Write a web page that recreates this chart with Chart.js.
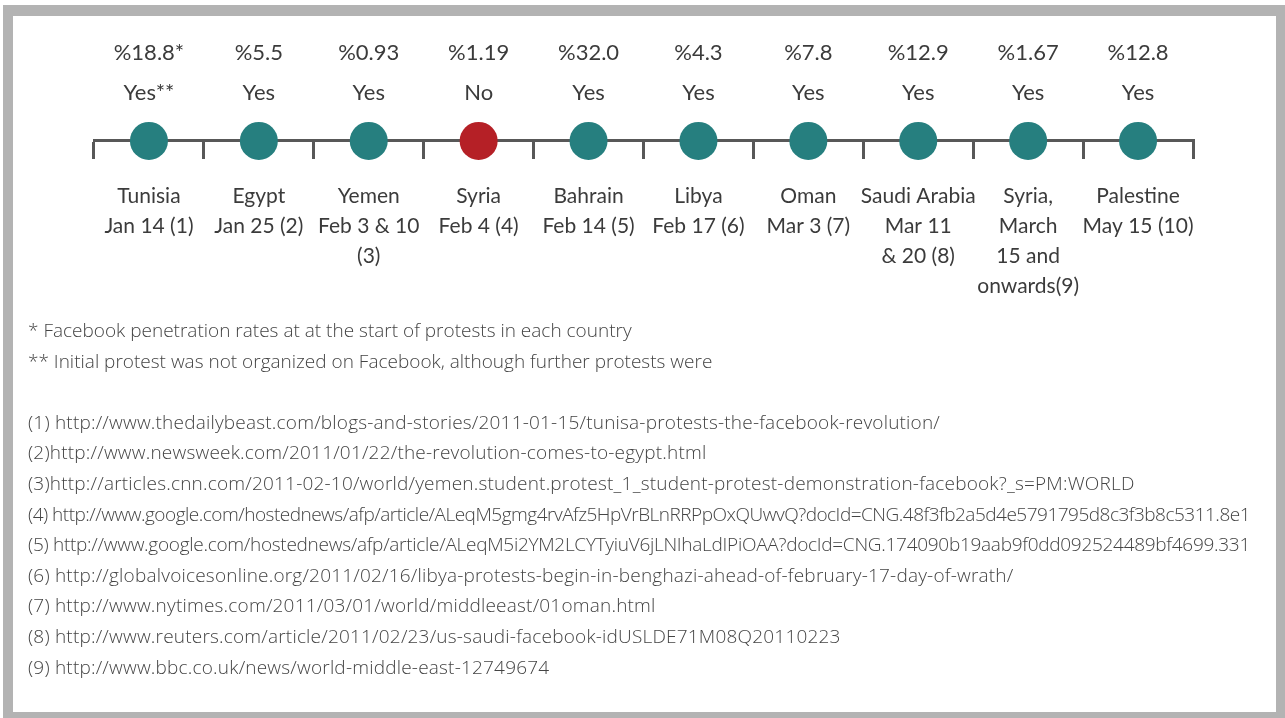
<!DOCTYPE html>
<html>
<head>
<meta charset="utf-8">
<script src="https://cdn.jsdelivr.net/npm/chart.js@4/dist/chart.umd.min.js"></script>
<style>
  html, body { margin: 0; padding: 0; background: #fff; }
  body { width: 1285px; height: 718px; position: relative; overflow: hidden; }
  #frame { position: absolute; left: 3px; top: 5px; width: 1282px; height: 713px; background: #b3b3b3; }
  #inner { position: absolute; left: 13px; top: 16px; width: 1263px; height: 696px; background: #fff; }
  #wrap { position: absolute; left: 0; top: 0; width: 1285px; height: 320px; }
  #notes { position: absolute; left: 28px; top: 315px; font-family: "Open Sans", sans-serif; font-weight: 300;
           font-size: 19px; line-height: 30.6px; color: #444; }
  #notes div { white-space: pre; height: 30.6px; width: max-content; letter-spacing: 0.2px; }
  #notes div.star { letter-spacing: 0; }
</style>
</head>
<body>
<div id="frame"></div>
<div id="inner"></div>
<div id="wrap"><canvas id="c"></canvas></div>
<div id="notes"></div>
<script>
// ---- data ----
const countries = ["Tunisia", "Egypt", "Yemen", "Syria", "Bahrain", "Libya", "Oman", "Saudi Arabia", "Syria,", "Palestine"];
const dateLines = [
  ["Jan 14 (1)"],
  ["Jan 25 (2)"],
  ["Feb 3 & 10", "(3)"],
  ["Feb 4 (4)"],
  ["Feb 14 (5)"],
  ["Feb 17 (6)"],
  ["Mar 3 (7)"],
  ["Mar 11", "& 20 (8)"],
  ["March", "15 and", "onwards(9)"],
  ["May 15 (10)"]
];
const penetrationRates = ["%18.8*", "%5.5", "%0.93", "%1.19", "%32.0", "%4.3", "%7.8", "%12.9", "%1.67", "%12.8"];
const organizedOnFacebook = ["Yes**", "Yes", "Yes", "No", "Yes", "Yes", "Yes", "Yes", "Yes", "Yes"];
const timelinePosition = [0, 0, 0, 0, 0, 0, 0, 0, 0, 0];
const footnotes = [
  "* Facebook penetration rates at at the start of protests in each country",
  "** Initial protest was not organized on Facebook, although further protests were",
  "",
  "(1) http://www.thedailybeast.com/blogs-and-stories/2011-01-15/tunisa-protests-the-facebook-revolution/",
  "(2)http://www.newsweek.com/2011/01/22/the-revolution-comes-to-egypt.html",
  "(3)http://articles.cnn.com/2011-02-10/world/yemen.student.protest_1_student-protest-demonstration-facebook?_s=PM:WORLD",
  "(4) http://www.google.com/hostednews/afp/article/ALeqM5gmg4rvAfz5HpVrBLnRRPpOxQUwvQ?docId=CNG.48f3fb2a5d4e5791795d8c3f3b8c5311.8e1",
  "(5) http://www.google.com/hostednews/afp/article/ALeqM5i2YM2LCYTyiuV6jLNIhaLdIPiOAA?docId=CNG.174090b19aab9f0dd092524489bf4699.331",
  "(6) http://globalvoicesonline.org/2011/02/16/libya-protests-begin-in-benghazi-ahead-of-february-17-day-of-wrath/",
  "(7) http://www.nytimes.com/2011/03/01/world/middleeast/01oman.html",
  "(8) http://www.reuters.com/article/2011/02/23/us-saudi-facebook-idUSLDE71M08Q20110223",
  "(9) http://www.bbc.co.uk/news/world-middle-east-12749674"
];

// footnotes as real text; lines too long for the frame are tightened to fit
const notesEl = document.getElementById('notes');
const MAX_NOTE_WIDTH = 1222;
footnotes.forEach(t => {
  const d = document.createElement('div');
  d.textContent = t;
  if (t.startsWith('*')) d.className = 'star';
  notesEl.appendChild(d);
});
function fitNotes() {
  Array.from(notesEl.children).forEach(d => {
    d.style.letterSpacing = '';
    const w = d.getBoundingClientRect().width;
    const n = d.textContent.length;
    if (w > MAX_NOTE_WIDTH && n > 0) {
      const base = parseFloat(getComputedStyle(d).letterSpacing) || 0;
      d.style.letterSpacing = (base - (w - MAX_NOTE_WIDTH) / n) + 'px';
    }
  });
}
fitNotes();
if (document.fonts && document.fonts.ready) document.fonts.ready.then(fitNotes);

const TEAL = "#267f7f", RED = "#b52026", LINE = "#585858", TEXT = "#3b3b3b";
const FONT = "Lato, 'Open Sans', sans-serif";

new Chart(document.getElementById('c'), {
  type: 'line',
  data: {
    labels: countries,
    datasets: [{
      data: timelinePosition,
      showLine: false,
      clip: false,
      pointRadius: 19,
      pointHoverRadius: 19,
      pointBorderWidth: 0,
      pointBackgroundColor: organizedOnFacebook.map(v => v.startsWith("No") ? RED : TEAL),
      pointBorderColor: organizedOnFacebook.map(v => v.startsWith("No") ? RED : TEAL)
    }]
  },
  options: {
    responsive: true,
    maintainAspectRatio: false,
    animation: false,
    events: [],
    layout: { padding: { left: 94, right: 92, top: 25, bottom: 20 } },
    plugins: { legend: { display: false }, tooltip: { enabled: false } },
    scales: {
      y: { display: false, min: -8, max: 1 },
      x: {
        type: 'category',
        position: { y: 0 },
        offset: true,
        grid: { offset: true, drawOnChartArea: false, drawTicks: true, tickLength: 17, color: LINE, lineWidth: 3 },
        border: { display: true, color: LINE, width: 3 },
        ticks: {
          autoSkip: false, maxRotation: 0, minRotation: 0, padding: 23,
          color: TEXT, font: { family: FONT, size: 21, lineHeight: '30px' },
          callback: (v, i) => [countries[i], ...dateLines[i]]
        }
      },
      xTop: {
        type: 'category',
        position: 'top',
        labels: countries,
        offset: true,
        grid: { display: false, drawTicks: false, tickLength: 0 },
        border: { display: false },
        ticks: {
          autoSkip: false, maxRotation: 0, minRotation: 0, padding: 8,
          color: TEXT, font: { family: FONT, size: 22, lineHeight: '40px' },
          callback: (v, i) => [penetrationRates[i], organizedOnFacebook[i]]
        }
      }
    }
  }
});
</script>
</body>
</html>
